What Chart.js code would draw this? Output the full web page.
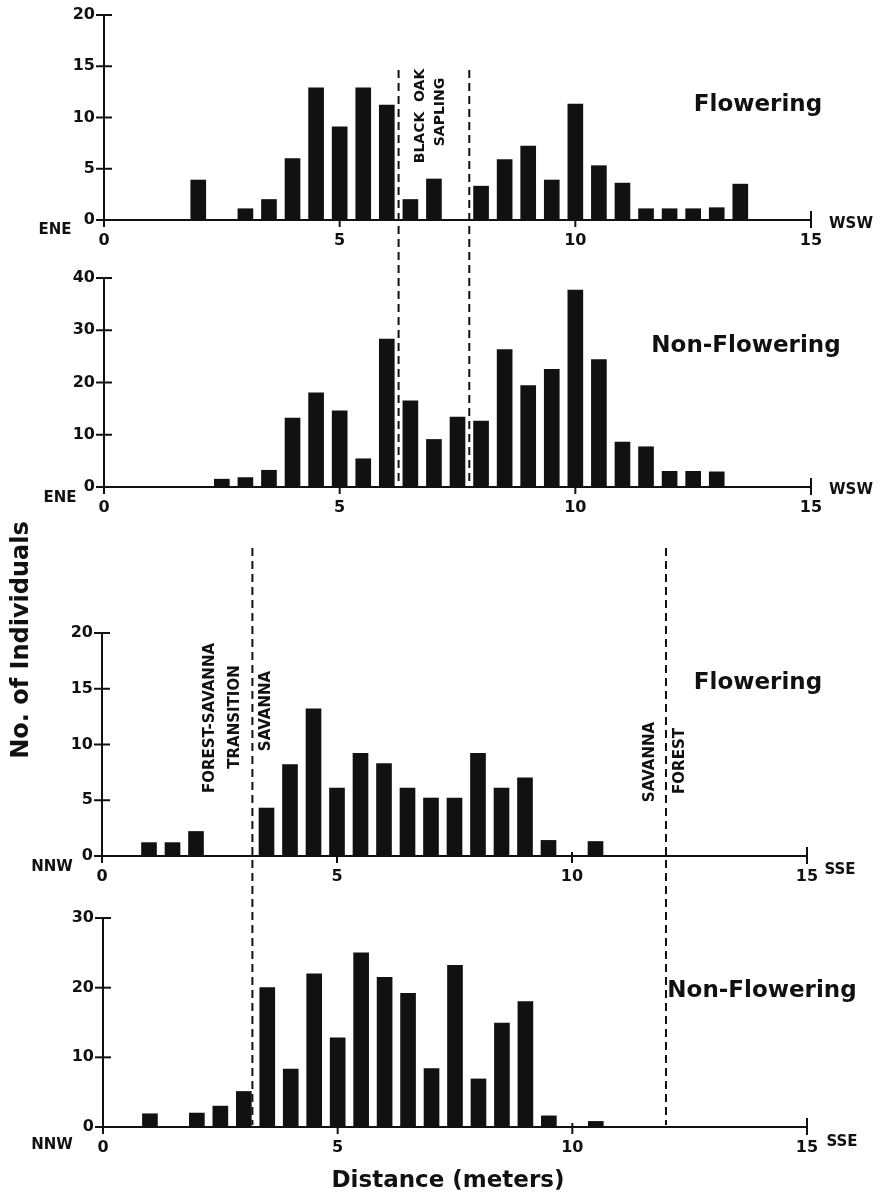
<!DOCTYPE html>
<html>
<head>
<meta charset="utf-8">
<script src="https://cdn.jsdelivr.net/npm/chart.js@4.4.0/dist/chart.umd.min.js"></script>
<style>
    html, body { margin: 0; padding: 0; background: #fff; }
    #wrap { position: relative; width: 883px; height: 1200px; }
    #wrap canvas { position: absolute; left: 0; top: 0; }
</style>
</head>
<body>
<div id="wrap">
    <canvas id="p1" width="883" height="1200"></canvas>
    <canvas id="p2" width="883" height="1200"></canvas>
    <canvas id="p3" width="883" height="1200"></canvas>
    <canvas id="p4" width="883" height="1200"></canvas>
</div>
<script>
// Bin centres (meters) and counts
// ENE - WSW transect
const eneFlowerDist = [2, 3, 3.5, 4, 4.5, 5, 5.5, 6, 6.5, 7, 8, 8.5, 9, 9.5, 10, 10.5, 11, 11.5, 12, 12.5, 13, 13.5];
const eneFlowerCount = [3.9, 1.1, 2.0, 6.0, 12.9, 9.1, 12.9, 11.2, 2.0, 4.0, 3.3, 5.9, 7.2, 3.9, 11.3, 5.3, 3.6, 1.1, 1.1, 1.1, 1.2, 3.5];
const eneNonDist = [2.5, 3, 3.5, 4, 4.5, 5, 5.5, 6, 6.5, 7, 7.5, 8, 8.5, 9, 9.5, 10, 10.5, 11, 11.5, 12, 12.5, 13];
const eneNonCount = [1.5, 1.8, 3.2, 13.2, 18.0, 14.6, 5.4, 28.3, 16.5, 9.1, 13.4, 12.6, 26.3, 19.4, 22.5, 37.7, 24.4, 8.6, 7.7, 3.0, 3.0, 2.9];

// NNW - SSE transect
const nnwFlowerDist = [1, 1.5, 2, 3.5, 4, 4.5, 5, 5.5, 6, 6.5, 7, 7.5, 8, 8.5, 9, 9.5, 10.5];
const nnwFlowerCount = [1.2, 1.2, 2.2, 4.3, 8.2, 13.2, 6.1, 9.2, 8.3, 6.1, 5.2, 5.2, 9.2, 6.1, 7.0, 1.4, 1.3];
const nnwNonDist = [1, 2, 2.5, 3, 3.5, 4, 4.5, 5, 5.5, 6, 6.5, 7, 7.5, 8, 8.5, 9, 9.5, 10.5];
const nnwNonCount = [1.9, 2.0, 3.0, 5.1, 20.0, 8.3, 22.0, 12.8, 25.0, 21.5, 19.2, 8.4, 23.2, 6.9, 14.9, 18.0, 1.6, 0.8];

// boundaries (meters)
const oakEdges = [6.25, 7.75];
const savannaEdges = [3.2, 12.0];

const xMax = 15;
const xStep = 5;

const W = 883, H = 1200;
const INK = '#111';
const FAMILY = "'DejaVu Sans', 'Liberation Sans', sans-serif";

function line(ctx, x1, y1, x2, y2) {
    ctx.beginPath();
    ctx.moveTo(x1, y1);
    ctx.lineTo(x2, y2);
    ctx.stroke();
}

function text(ctx, str, x, y, size, rot) {
    ctx.save();
    ctx.translate(x, y);
    if (rot) ctx.rotate(-Math.PI / 2);
    ctx.font = 'bold ' + size + 'px ' + FAMILY;
    ctx.textAlign = 'center';
    ctx.textBaseline = 'middle';
    ctx.fillText(str, 0, 0);
    ctx.restore();
}

// axis crosses, dashed boundaries and labels
function decor(extra) {
    return {
        id: 'decor',
        afterDraw(chart) {
            const { ctx, chartArea: a, scales: { x, y } } = chart;
            ctx.save();
            ctx.strokeStyle = INK;
            ctx.fillStyle = INK;
            ctx.lineWidth = 2;
            y.ticks.forEach(t => {
                const py = y.getPixelForValue(t.value);
                line(ctx, a.left - 8, py, a.left + 8, py);
            });
            line(ctx, a.left, a.bottom, a.left, a.bottom + 7);
            x.ticks.forEach(t => {
                if (t.value === 0) return;
                const px = x.getPixelForValue(t.value);
                if (t.value === xMax) line(ctx, px, a.bottom - 9, px, a.bottom + 8);
                else line(ctx, px, a.bottom - 4, px, a.bottom + 7);
            });
            if (extra.edges) {
                ctx.setLineDash([8, 5]);
                extra.edges.forEach(v => {
                    const px = x.getPixelForValue(v);
                    line(ctx, px, extra.edgeTop, px, extra.edgeBottom);
                });
                ctx.setLineDash([]);
            }
            extra.labels.forEach(l => text(ctx, l[0], l[1], l[2], l[3], l[4]));
            ctx.restore();
        }
    };
}

const tickFont = { family: FAMILY, size: 16, weight: 'bold' };

function makePanel(id, dist, counts, yMax, yStep, box, extra) {
    const ctx = document.getElementById(id).getContext('2d');
    return new Chart(ctx, {
        type: 'bar',
        data: {
            datasets: [{
                data: dist.map((d, i) => ({ x: d, y: counts[i] })),
                backgroundColor: INK,
                borderWidth: 0,
                barThickness: 15
            }]
        },
        options: {
            responsive: false,
            animation: false,
            events: [],
            layout: { padding: { left: 0, top: box.top, right: W - box.right, bottom: 0 } },
            plugins: { legend: { display: false }, tooltip: { enabled: false } },
            scales: {
                x: {
                    type: 'linear',
                    min: 0,
                    max: xMax,
                    offset: false,
                    afterFit: s => { s.height = H - box.bottom; },
                    grid: { display: false, offset: false, drawTicks: true, tickLength: 8 },
                    border: { display: true, color: INK, width: 2 },
                    ticks: { stepSize: xStep, color: INK, font: tickFont, padding: 3, maxRotation: 0 }
                },
                y: {
                    min: 0,
                    max: yMax,
                    afterFit: s => { s.width = box.left; },
                    grid: { display: false, drawTicks: true, tickLength: 8 },
                    border: { display: true, color: INK, width: 2 },
                    ticks: { stepSize: yStep, color: INK, font: tickFont, padding: 1 }
                }
            }
        },
        plugins: [decor(extra)]
    });
}

makePanel('p1', eneFlowerDist, eneFlowerCount, 20, 5,
    { top: 15, bottom: 220, left: 104, right: 811 },
    {
        edges: oakEdges, edgeTop: 70, edgeBottom: 487,
        labels: [
            ['ENE', 55, 230, 15], ['WSW', 851, 224, 15],
            ['Flowering', 758, 105, 23],
            ['BLACK  OAK', 420, 116, 14, true], ['SAPLING', 440, 112, 14, true],
            ['No. of Individuals', 22, 640, 24, true]
        ]
    });

makePanel('p2', eneNonDist, eneNonCount, 40, 10,
    { top: 278, bottom: 487, left: 104, right: 811 },
    {
        labels: [
            ['ENE', 60, 498, 15], ['WSW', 851, 490, 15],
            ['Non-Flowering', 746, 346, 23]
        ]
    });

makePanel('p3', nnwFlowerDist, nnwFlowerCount, 20, 5,
    { top: 633, bottom: 856, left: 102, right: 807 },
    {
        edges: savannaEdges, edgeTop: 548, edgeBottom: 1125,
        labels: [
            ['NNW', 52, 867, 15], ['SSE', 840, 870, 15],
            ['Flowering', 758, 683, 23],
            ['FOREST-SAVANNA', 210, 718, 15, true], ['TRANSITION', 235, 717, 15, true],
            ['SAVANNA', 266, 711, 15, true],
            ['SAVANNA', 650, 762, 15, true], ['FOREST', 680, 761, 15, true]
        ]
    });

makePanel('p4', nnwNonDist, nnwNonCount, 30, 10,
    { top: 918, bottom: 1127, left: 103, right: 807 },
    {
        labels: [
            ['NNW', 52, 1145, 15], ['SSE', 842, 1142, 15],
            ['Non-Flowering', 762, 991, 23],
            ['Distance (meters)', 448, 1181, 23]
        ]
    });
</script>
</body>
</html>
